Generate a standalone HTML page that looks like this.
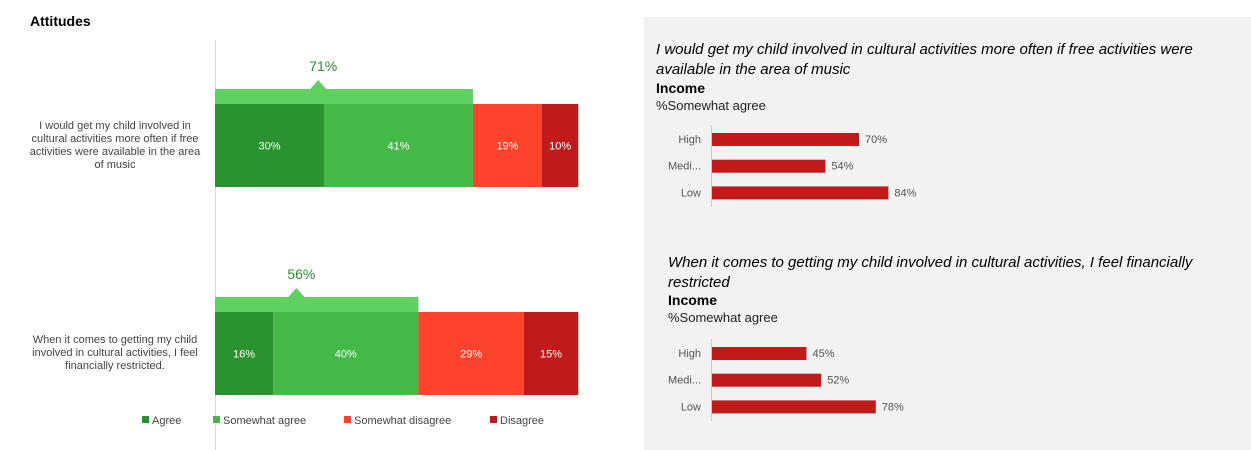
<!DOCTYPE html>
<html><head><meta charset="utf-8"><style>
body{margin:0;width:1251px;height:450px;background:#fff;font-family:"Liberation Sans",sans-serif;overflow:hidden;position:relative}
</style></head><body>
<svg width="1251" height="450" style="position:absolute;left:0;top:0">
<rect x="644" y="17" width="607" height="433" fill="#f2f2f2"/>
<text x="30" y="26" font-size="14" font-weight="bold" fill="#000">Attitudes</text>
<line x1="215.5" y1="40" x2="215.5" y2="450" stroke="#d9d9d9"/>
<g id="main"></g>
<g id="mini"></g>
<g font-size="15" font-style="italic" fill="#000">
<text x="656" y="54">I would get my child involved in cultural activities more often if free activities were</text>
<text x="656" y="74">available in the area of music</text>
<text x="668" y="267">When it comes to getting my child involved in cultural activities, I feel financially</text>
<text x="668" y="287">restricted</text>
</g>
<text x="656" y="93" font-size="14" font-weight="bold">Income</text>
<text x="656" y="110" font-size="13" fill="#222">%Somewhat agree</text>
<text x="668" y="305" font-size="14" font-weight="bold">Income</text>
<text x="668" y="322" font-size="13" fill="#222">%Somewhat agree</text>
<g font-size="11" fill="#444" text-anchor="middle">
<text x="115" y="129">I would get my child involved in</text>
<text x="115" y="142">cultural activities more often if free</text>
<text x="115" y="155">activities were available in the area</text>
<text x="115" y="168">of music</text>
<text x="115" y="343">When it comes to getting my child</text>
<text x="115" y="356">involved in cultural activities, I feel</text>
<text x="115" y="369">financially restricted.</text>
</g>
<g font-size="11" fill="#444">
<rect x="142" y="416" width="7" height="7" fill="#2a922e"/><text x="152" y="424">Agree</text>
<rect x="213" y="416" width="7" height="7" fill="#45b947"/><text x="223" y="424">Somewhat agree</text>
<rect x="344" y="416" width="7" height="7" fill="#fd432c"/><text x="354" y="424">Somewhat disagree</text>
<rect x="490" y="416" width="7" height="7" fill="#c01a1a"/><text x="500" y="424">Disagree</text>
</g>
</svg>
<script>
const questions=["q1","q2"];
const agree=[30,16];
const somewhatAgree=[41,40];
const somewhatDisagree=[19,29];
const disagree=[10,15];
const incomeCats=["High","Medi...","Low"];
const mini1Values=[70,54,84];
const mini2Values=[45,52,78];

const NS="http://www.w3.org/2000/svg";
function mk(t,a,p){const e=document.createElementNS(NS,t);for(const k in a)e.setAttribute(k,a[k]);p.appendChild(e);return e;}
const x0=215,pxPer=3.633;
const xs=v=>x0+v*pxPer;
const barTops=[104,312],barH=83;
const colors=["#2a922e","#45b947","#fd432c","#c01a1a"];
const main=document.getElementById("main");
questions.forEach((q,i)=>{
  const vals=[agree[i],somewhatAgree[i],somewhatDisagree[i],disagree[i]];
  let cum=0;const y=barTops[i];
  vals.forEach((v,j)=>{
    const r=mk("rect",{x:xs(cum),y:y,width:v*pxPer,height:barH,fill:colors[j]},main);
    
    
    const t=mk("text",{x:xs(cum+v/2),y:y+barH/2+4,"font-size":11,fill:"#fff","text-anchor":"middle"},main);
    t.textContent=v+"%";
    
    
    cum+=v;
  });
  const tot=agree[i]+somewhatAgree[i];
  const cx=xs(tot*0.4);
  const br=mk("path",{d:`M${x0} ${y-15}H${cx-8}L${cx} ${y-24}L${cx+8} ${y-15}H${xs(tot)}V${y}H${x0}Z`,fill:"#5fd161"},main);
  
  
  const tl=mk("text",{x:cx+5,y:y-33,"font-size":14,fill:"#2e8b30","text-anchor":"middle"},main);
  tl.textContent=tot+"%";
  
  
});
const mini=document.getElementById("mini");
const mx0=711,mpx=2.1;
[[mini1Values,133,"mini1"],[mini2Values,347,"mini2"]].forEach(([vals,top,nm])=>{
  const ax=mk("line",{x1:mx0+0.5,y1:top-8,x2:mx0+0.5,y2:top+74,stroke:"#ccc"},mini);
  
  
  vals.forEach((v,k)=>{
    const y=top+k*26.7;
    const r=mk("rect",{x:mx0+1,y:y,width:v*mpx,height:13,fill:"#c01a1a"},mini);
    
    
    const c=mk("text",{x:mx0-10,y:y+10,"font-size":11,fill:"#555","text-anchor":"end"},mini);
    c.textContent=incomeCats[k];
    
    
    const t=mk("text",{x:mx0+v*mpx+7,y:y+10,"font-size":11,fill:"#555"},mini);
    t.textContent=v+"%";
    
    
  });
});
</script>
</body></html>
